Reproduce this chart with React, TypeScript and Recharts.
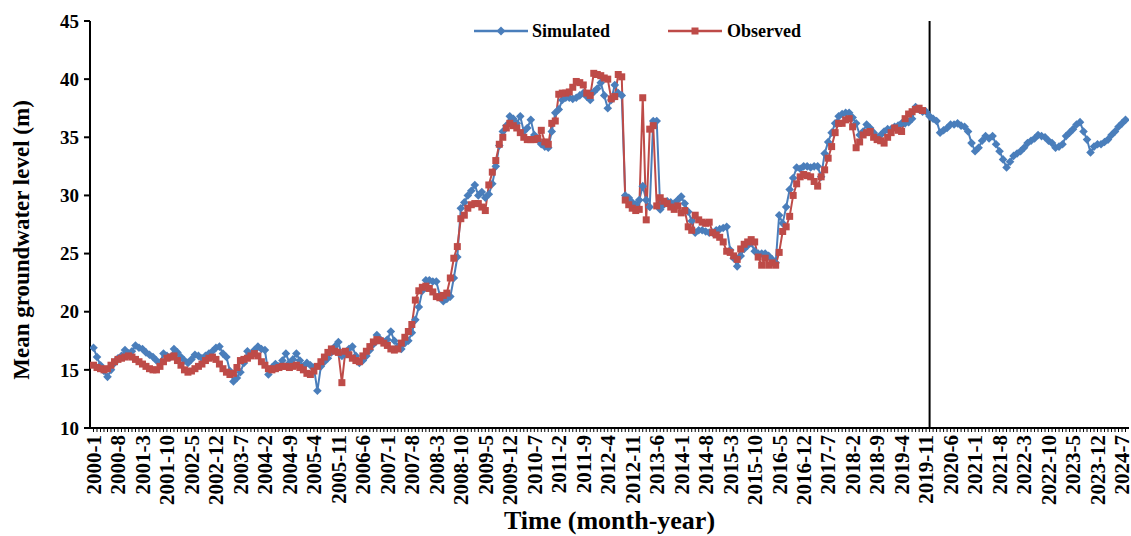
import React from 'react';
import { LineChart, Line, XAxis, YAxis, ReferenceLine, Legend } from 'recharts';

// ---- data (monthly, starting 2000-1) ----
const START_YEAR = 2000;

const simulated: number[] = [
  16.9, 16.1, 15.4, 14.9, 14.4, 15.0, 15.6, 16.0, 16.2, 16.7, 16.4, 16.6, // 2000
  17.1, 16.9, 16.8, 16.5, 16.3, 16.1, 15.8, 15.6, 16.4, 16.2, 16.1, 16.8, // 2001
  16.5, 16.1, 15.8, 15.6, 15.9, 16.3, 16.2, 16.0, 16.2, 16.4, 16.6, 16.9, // 2002
  17.0, 16.4, 16.1, 14.9, 14.0, 14.3, 14.8, 15.6, 16.6, 16.3, 16.7, 17.0, // 2003
  16.8, 16.7, 14.6, 15.2, 15.5, 15.3, 15.8, 16.4, 15.6, 15.9, 16.4, 15.8, // 2004
  15.3, 15.6, 15.4, 15.2, 13.2, 15.3, 15.7, 16.0, 16.5, 17.0, 17.4, 16.2, // 2005
  16.4, 16.8, 17.0, 16.2, 15.6, 15.8, 16.2, 16.7, 17.2, 18.0, 17.6, 17.4, // 2006
  17.6, 18.3, 17.5, 17.0, 16.8, 17.3, 17.5, 18.2, 19.3, 20.4, 21.8, 22.7, // 2007
  22.7, 22.6, 22.6, 21.4, 20.9, 21.1, 21.3, 22.9, 24.7, 28.9, 29.4, 30.0, // 2008
  30.4, 30.9, 30.0, 30.3, 29.8, 30.1, 31.0, 32.5, 34.3, 35.5, 36.0, 36.8, // 2009
  36.6, 36.2, 36.8, 35.5, 35.8, 36.5, 35.2, 34.8, 34.4, 34.2, 34.1, 35.5, // 2010
  37.1, 37.4, 38.2, 38.4, 38.4, 38.3, 38.4, 38.6, 38.8, 38.5, 38.2, 38.9, // 2011
  39.2, 39.7, 38.6, 37.5, 38.2, 39.5, 38.8, 38.6, 30.0, 29.8, 29.4, 29.2, // 2012
  29.6, 30.8, 29.6, 29.0, 36.4, 36.4, 28.8, 29.2, 29.5, 29.4, 29.3, 29.6, // 2013
  29.9, 29.3, 28.6, 27.8, 26.8, 27.0, 27.0, 26.9, 26.8, 26.8, 27.0, 27.1, // 2014
  27.2, 27.3, 25.3, 24.6, 23.9, 24.8, 25.4, 25.7, 25.9, 25.2, 25.0, 25.0, // 2015
  25.0, 24.8, 24.5, 24.2, 28.3, 27.6, 29.0, 30.5, 31.5, 32.4, 32.3, 32.5, // 2016
  32.5, 32.4, 32.5, 32.5, 31.6, 33.6, 34.6, 35.4, 36.2, 36.8, 37.0, 37.1, // 2017
  37.1, 36.7, 36.2, 35.2, 35.5, 36.1, 35.8, 35.4, 35.0, 35.2, 35.5, 35.7, // 2018
  35.7, 35.9, 36.0, 36.2, 36.2, 36.3, 36.6, 37.6, 37.4, 37.2, 37.2, 36.8, // 2019
  36.6, 36.4, 35.4, 35.6, 35.8, 36.1, 36.1, 36.2, 36.0, 35.9, 35.5, 34.5, // 2020
  33.8, 34.1, 34.7, 35.1, 34.9, 35.1, 34.4, 33.8, 33.1, 32.4, 32.9, 33.4, // 2021
  33.6, 33.8, 34.1, 34.5, 34.7, 34.9, 35.2, 35.1, 35.0, 34.7, 34.5, 34.1, // 2022
  34.2, 34.4, 35.1, 35.4, 35.7, 36.1, 36.3, 35.5, 34.8, 33.7, 34.2, 34.4, // 2023
  34.4, 34.6, 34.8, 35.2, 35.5, 35.9, 36.2, 36.5, // 2024
];

const observed: number[] = [
  15.4, 15.2, 15.1, 15.0, 15.1, 15.4, 15.7, 15.9, 16.0, 16.1, 16.2, 16.1, // 2000
  15.9, 15.7, 15.5, 15.3, 15.1, 15.0, 15.0, 15.3, 15.7, 16.0, 16.1, 16.2, // 2001
  15.8, 15.4, 15.0, 14.8, 14.9, 15.1, 15.3, 15.5, 15.8, 16.0, 16.1, 15.9, // 2002
  15.5, 15.1, 14.8, 14.6, 14.7, 15.2, 15.8, 15.9, 16.0, 16.2, 16.4, 16.2, // 2003
  15.7, 15.4, 15.1, 15.0, 15.1, 15.2, 15.3, 15.3, 15.2, 15.3, 15.4, 15.2, // 2004
  15.0, 14.7, 14.6, 14.9, 15.3, 15.7, 16.1, 16.5, 16.8, 16.6, 16.5, 13.9, // 2005
  16.6, 16.3, 16.0, 15.8, 15.7, 16.2, 16.6, 17.0, 17.4, 17.6, 17.5, 17.3, // 2006
  17.1, 16.8, 16.7, 16.8, 17.3, 17.8, 18.3, 18.9, 21.0, 21.8, 22.1, 22.2, // 2007
  22.0, 21.7, 21.3, 21.2, 21.4, 21.6, 22.9, 24.6, 25.6, 28.0, 28.3, 28.9, // 2008
  29.2, 29.3, 29.3, 29.0, 28.7, 30.9, 32.0, 33.0, 34.4, 35.0, 35.8, 36.2, // 2009
  36.0, 35.8, 35.4, 35.0, 34.8, 34.8, 34.8, 34.9, 35.6, 34.6, 34.4, 36.2, // 2010
  36.4, 38.7, 38.8, 38.8, 38.9, 39.3, 39.8, 39.7, 39.5, 38.8, 38.6, 40.5, // 2011
  40.4, 40.3, 40.1, 40.0, 38.3, 38.5, 40.4, 40.2, 29.6, 29.2, 28.9, 28.7, // 2012
  28.8, 38.4, 27.9, 35.7, 36.0, 29.1, 29.8, 29.5, 29.3, 29.0, 28.8, 29.1, // 2013
  28.5, 28.7, 27.3, 27.0, 28.3, 27.9, 27.7, 27.6, 27.7, 26.8, 26.6, 26.4, // 2014
  26.0, 25.2, 25.1, 24.8, 24.5, 25.4, 25.8, 26.0, 26.2, 26.0, 24.7, 24.0, // 2015
  24.6, 24.0, 24.2, 24.0, 25.1, 26.9, 27.3, 28.2, 30.0, 31.0, 31.6, 31.8, // 2016
  31.7, 31.6, 31.2, 30.8, 31.6, 32.2, 33.2, 34.2, 35.4, 36.2, 36.2, 36.5, // 2017
  36.6, 35.9, 34.1, 34.6, 35.2, 35.4, 35.5, 35.0, 34.8, 34.7, 34.5, 35.0, // 2018
  35.4, 35.8, 35.6, 35.5, 36.6, 37.0, 37.2, 37.4, 37.5, 37.3, // 2019
];

const yTicks = [10, 15, 20, 25, 30, 35, 40, 45];
const LABEL_STEP = 7; // a tick label every 7 months
const BOUNDARY_INDEX = 239; // calibration / forecast boundary (2019-12)

const SERIES_NAMES = ['Simulated', 'Observed'];
const BLUE = '#4A7EBB';
const RED = '#BE4B48';
const FONT = '"Liberation Serif", "Times New Roman", serif';

const monthLabel = (i: number) => `${START_YEAR + Math.floor(i / 12)}-${(i % 12) + 1}`;

const data = simulated.map((v, i) => ({
  idx: i,
  label: monthLabel(i),
  simulated: v,
  observed: i < observed.length ? observed[i] : null,
}));
const monthTicks = data.map((d) => d.idx);

const renderDiamond = (props: any) => {
  const { cx, cy, index } = props;
  if (cx == null || cy == null || isNaN(cy)) return <g key={`sd-${index}`} />;
  const r = 4.3;
  return (
    <path
      key={`sd-${index}`}
      d={`M${cx},${cy - r}L${cx + r},${cy}L${cx},${cy + r}L${cx - r},${cy}Z`}
      fill={BLUE}
    />
  );
};

const renderSquare = (props: any) => {
  const { cx, cy, index, payload } = props;
  if (cx == null || cy == null || isNaN(cy) || payload?.observed == null) return <g key={`os-${index}`} />;
  const s = 3.5;
  return <rect key={`os-${index}`} x={cx - s} y={cy - s} width={2 * s} height={2 * s} fill={RED} />;
};

const renderXTick = (props: any) => {
  const { x, y, payload, index } = props;
  const v = payload.value;
  if (v % LABEL_STEP !== 0) return <g key={`xt-${index}`} />;
  return (
    <text
      key={`xt-${index}`}
      x={x}
      y={y}
      transform={`rotate(-90 ${x} ${y})`}
      textAnchor="end"
      dy="0.35em"
      fill="#000"
      fontSize={21}
      fontWeight="bold"
      fontFamily={FONT}
    >
      {monthLabel(v)}
    </text>
  );
};

const renderYTitle = () => (
  <text
    x={21}
    y={240}
    transform="rotate(-90 21 240)"
    textAnchor="middle"
    dy="0.35em"
    fill="#000"
    fontSize={23}
    fontWeight="bold"
    fontFamily={FONT}
  >
    Mean groundwater level (m)
  </text>
);

const LegendMark = ({ color, square }: { color: string; square: boolean }) => (
  <svg width={54} height={12} style={{ display: 'block' }}>
    <line x1={0} y1={6} x2={54} y2={6} stroke={color} strokeWidth={2.5} />
    {square ? (
      <rect x={23.5} y={2.5} width={7} height={7} fill={color} />
    ) : (
      <path d="M27,1.5L31.5,6L27,10.5L22.5,6Z" fill={color} />
    )}
  </svg>
);

const renderLegend = () => (
  <div
    style={{
      display: 'flex',
      alignItems: 'center',
      fontFamily: FONT,
      fontWeight: 'bold',
      fontSize: 18,
      color: '#000',
      lineHeight: '22px',
    }}
  >
    <LegendMark color={BLUE} square={false} />
    <span style={{ marginLeft: 4 }}>{SERIES_NAMES[0]}</span>
    <span style={{ marginLeft: 58 }}>
      <LegendMark color={RED} square={true} />
    </span>
    <span style={{ marginLeft: 5 }}>{SERIES_NAMES[1]}</span>
  </div>
);

export default function App() {
  return (
    <div style={{ position: 'absolute', left: 0, top: 0, width: 1131, height: 536, background: '#fff' }}>
      <LineChart width={1131} height={536} data={data} margin={{ top: 21, right: 2, left: 0, bottom: 0 }}>
        <XAxis
          type="number"
          dataKey="idx"
          domain={[-1, 296]}
          ticks={monthTicks}
          interval={0}
          allowDataOverflow
          height={108}
          tickSize={4}
          tickMargin={3}
          tickLine={{ stroke: '#000', strokeWidth: 1 }}
          axisLine={{ stroke: '#000', strokeWidth: 2 }}
          tick={renderXTick}
          label={{
            value: 'Time (month-year)',
            position: 'insideBottom',
            offset: 7,
            fill: '#000',
            fontSize: 26,
            fontWeight: 'bold',
            fontFamily: FONT,
          }}
        />
        <YAxis
          type="number"
          domain={[10, 45]}
          ticks={yTicks}
          interval={0}
          width={90}
          tickSize={6}
          tickMargin={5}
          tickLine={{ stroke: '#000', strokeWidth: 2 }}
          axisLine={{ stroke: '#000', strokeWidth: 2 }}
          tick={{ fill: '#000', fontSize: 19, fontWeight: 'bold', fontFamily: FONT }}
          label={{ content: renderYTitle }}
        />
        <ReferenceLine x={BOUNDARY_INDEX} stroke="#000" strokeWidth={2} />
        <Legend
          layout="horizontal"
          verticalAlign="middle"
          align="center"
          wrapperStyle={{ top: 20, left: 474, width: 400, height: 22 }}
          content={renderLegend}
        />
        <Line
          type="linear"
          dataKey="simulated"
          name={SERIES_NAMES[0]}
          stroke={BLUE}
          strokeWidth={2}
          dot={renderDiamond}
          activeDot={false}
          isAnimationActive={false}
        />
        <Line
          type="linear"
          dataKey="observed"
          name={SERIES_NAMES[1]}
          stroke={RED}
          strokeWidth={2}
          dot={renderSquare}
          activeDot={false}
          connectNulls={false}
          isAnimationActive={false}
        />
      </LineChart>
    </div>
  );
}
